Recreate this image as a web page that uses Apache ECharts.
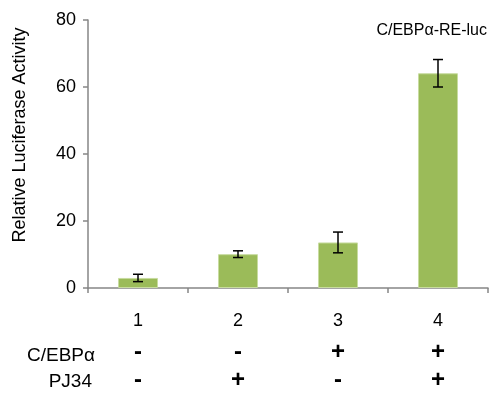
<!DOCTYPE html>
<html><head><meta charset="utf-8">
<script src="https://cdn.jsdelivr.net/npm/echarts@6/dist/echarts.min.js"></script>
<style>html,body{margin:0;padding:0;background:#fff}#c{width:489px;height:394px}</style>
</head><body><div id="c"></div>
<script>
const categories = ['1', '2', '3', '4'];
const values = [3.0, 10.1, 13.6, 64.1];
const errors = [1.1, 1.0, 3.1, 4.1];
const cebpa = ['-', '-', '+', '+'];
const pj34 = ['-', '+', '-', '+'];
const yTicks = [0, 20, 40, 60, 80];
const yTitle = 'Relative Luciferase Activity';
const annotation = 'C/EBPα-RE-luc';
const rowLabels = ['C/EBPα', 'PJ34'];

const FONT = '"Liberation Sans", Arial, sans-serif';
const chart = echarts.init(document.getElementById('c'));
const hiddenAxis = (offset, labels) => ({
  type: 'category', data: categories, position: 'bottom', offset: offset,
  axisLine: {show: false}, axisTick: {show: false},
  axisLabel: {margin: 20, fontSize: 24, fontFamily: FONT, color: '#000', fontWeight: 'bold',
    formatter: (v, i) => labels[i]}
});
chart.setOption({
  animation: false,
  grid: {left: 88, right: 1, top: 20, bottom: 106, containLabel: false},
  xAxis: [
    {type: 'category', data: categories, position: 'bottom',
     axisLine: {lineStyle: {color: '#868686', width: 1.5}},
     axisTick: {show: true, length: 5, lineStyle: {color: '#868686', width: 1.5}},
     axisLabel: {margin: 24, fontSize: 18, fontFamily: FONT, color: '#000'}},
    hiddenAxis(32, cebpa),
    hiddenAxis(60, pj34)
  ],
  yAxis: {
    type: 'value', min: yTicks[0], max: yTicks[yTicks.length - 1], interval: 20,
    axisLine: {show: true, lineStyle: {color: '#868686', width: 1.5}},
    axisTick: {show: true, length: 5, lineStyle: {color: '#868686', width: 1.5}},
    splitLine: {show: false},
    axisLabel: {margin: 12, fontSize: 18, fontFamily: FONT, color: '#000'}
  },
  series: [
    {type: 'bar', data: values, barWidth: '40%',
     itemStyle: {color: '#9BBB59', borderColor: '#c8dca0', borderWidth: 1}},
    {type: 'custom', data: values.map((v, i) => [i, v, errors[i]]),
     renderItem: (params, api) => {
       const x = api.value(0), v = api.value(1), e = api.value(2);
       const top = api.coord([x, v + e]), bot = api.coord([x, v - e]);
       const hw = 5;
       const st = {stroke: '#000', lineWidth: 1.5};
       return {type: 'group', children: [
         {type: 'line', shape: {x1: top[0], y1: top[1], x2: bot[0], y2: bot[1]}, style: st},
         {type: 'line', shape: {x1: top[0] - hw, y1: top[1], x2: top[0] + hw, y2: top[1]}, style: st},
         {type: 'line', shape: {x1: bot[0] - hw, y1: bot[1], x2: bot[0] + hw, y2: bot[1]}, style: st}
       ]};
     }, z: 5}
  ],
  graphic: [
    {type: 'text', x: 20, y: 135, rotation: Math.PI / 2,
     style: {text: yTitle, font: '18px ' + FONT, fill: '#000', textAlign: 'center', textVerticalAlign: 'middle'}},
    {type: 'text', x: 487, y: 31,
     style: {text: annotation, font: '16px ' + FONT, fill: '#000', textAlign: 'right', textVerticalAlign: 'middle'}},
    {type: 'text', x: 95, y: 356,
     style: {text: rowLabels[0], font: '19px ' + FONT, fill: '#000', textAlign: 'right', textVerticalAlign: 'middle'}},
    {type: 'text', x: 92, y: 382,
     style: {text: rowLabels[1], font: '19px ' + FONT, fill: '#000', textAlign: 'right', textVerticalAlign: 'middle'}}
  ]
});
</script></body></html>
